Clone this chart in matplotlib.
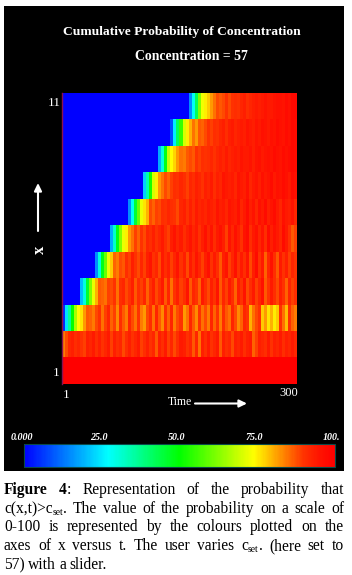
import numpy as np
import matplotlib
matplotlib.use("Agg")
import matplotlib.pyplot as plt
from matplotlib.colors import LinearSegmentedColormap, Normalize
from matplotlib.cm import ScalarMappable

plt.rcParams['font.family'] = ['Liberation Serif', 'DejaVu Serif']

W, H = 352, 575

TITLE = "Cumulative Probability of Concentration"
SUBTITLE = "Concentration = 57"
X_LABEL = "Time"
Y_LABEL = "X"
X_TICKS = ["1", "300"]
Y_TICKS = ["11", "1"]
BAR_TICKS = ["0.000", "25.0", "50.0", "75.0", "100."]

# Probability (0-100) per position x, top row first, along time
row_11 = [0]*42 + [15,28,42,62,73,75,78,82,85,88,87,88,90,88,90,91,90,92,93,91,92,93,94,93,94,95,94,94,95,96,96,95,97,96,98,98]
row_10 = [0]*36 + [8,25,42,55,70,75,80,85,82,87,86,88,90,89,91,90,92,93,91,93,94,92,93,94,93,95,94,93,95,94,96,95,94,96,95,97,96,95,97,96,98,97]
row_9 = [0]*32 + [18,30,48,68,74,77,82,85,84,87,88,87,90,89,91,90,91,92,90,92,93,92,94,92,93,94,93,95,94,94,95,93,95,96,94,95,96,95,97,96,95,97,96,97,98,97]
row_8 = [0]*27 + [22,34,52,70,75,82,85,88,86,89,91,90,92,91,89,92,91,93,92,90,93,92,94,91,93,92,95,94,93,94,92,95,94,93,96,92,94,95,93,96,94,95,97,94,96,95,97,96,94,97,96]
row_7 = [0]*22 + [15,28,45,60,72,76,80,88,86,89,88,91,90,92,91,90,88,92,93,90,93,91,94,92,93,92,94,93,92,95,93,94,92,95,94,93,96,92,94,97,93,95,92,96,94,97,93,95,97,94,92,96,94,93,95,92]
row_6 = [0]*16 + [18,32,48,62,72,75,82,85,89,86,90,88,92,91,93,90,92,94,91,89,93,95,92,94,91,93,95,92,94,90,93,96,92,95,91,94,96,93,89,95,92,96,93,90,95,97,91,94,96,92,95,91,97,93,96,94,92,97,94,90,87,89]
row_5 = [0]*11 + [15,30,48,60,72,78,86,84,88,87,91,89,93,90,88,92,89,93,95,90,92,88,94,91,93,89,92,95,90,93,88,94,91,95,92,89,93,96,90,94,91,87,93,95,89,92,96,90,94,91,95,88,93,97,90,94,86,92,96,91,87,94,90,93,89,92,90]
row_4 = [0]*6 + [20,30,46,62,72,80,87,86,85,89,88,90,85,91,92,88,90,93,87,91,89,92,86,90,93,88,91,94,87,92,85,90,93,89,91,95,87,92,90,86,94,91,88,93,90,95,87,92,89,94,91,86,93,90,95,88,91,94,89,92,96,87,90,94,91,88,93,90,86,92,89,91]
row_3 = [5,24,36,50,66,74,76,82,87,86,84,88,90,85,89,92,86,89,83,91,87,84,92,88,85,90,84,82,88,91,85,92,87,83,91,86,92,84,88,90,82,85,92,87,83,90,85,88,84,92,86,90,84,91,87,85,92,88,83,86,92,90,80,85,88,90,78,82,76,80,75,78,90,85,79,90,86,84]
row_2 = [84,88,92,93,91,92,90,89,93,92,94,91,93,90,92,94,89,93,91,92,88,91,93,90,92,94,89,91,93,90,92,87,93,91,94,89,92,88,91,94,93,90,92,87,92,85,93,91,94,90,92,94,87,93,91,92,88,93,92,94,91,93,94,86,89,93,92,91,94,90,93,92,94,91,93,92,94,92]
row_1 = [100]*78

rows = [row_11, row_10, row_9, row_8, row_7, row_6, row_5, row_4, row_3, row_2, row_1]

cmap = LinearSegmentedColormap.from_list(
    "probability",
    [(0.0, (0, 0, 1)), (0.27, (0, 1, 1)), (0.5, (0, 1, 0)), (0.74, (1, 1, 0)),
     (0.84, (1, 0.5, 0)), (0.90, (1, 0.2, 0)), (0.95, (1, 0.08, 0)), (1.0, (1, 0, 0))])
norm = Normalize(0, 100)

fig = plt.figure(figsize=(W/100, H/100), dpi=100, facecolor="white")


def box(x0, y0, x1, y1):
    return [x0/W, 1 - y1/H, (x1 - x0)/W, (y1 - y0)/H]


# page overlay in pixel coordinates
page = fig.add_axes([0, 0, 1, 1], zorder=0)
page.set_xlim(0, W)
page.set_ylim(H, 0)
page.axis("off")
page.fill_between([4, 344], 6, 471, color="black", lw=0)

over = fig.add_axes([0, 0, 1, 1], zorder=5)
over.set_xlim(0, W)
over.set_ylim(H, 0)
over.axis("off")

# heat map
ax = fig.add_axes(box(62, 93, 297, 384), zorder=2)
ax.imshow(np.array(rows, dtype=float), cmap=cmap, norm=norm, aspect="auto", interpolation="nearest")
ax.set_xticks([])
ax.set_yticks([])
for name, s in ax.spines.items():
    s.set_visible(name == "left")
ax.spines["left"].set_color("#8a1050")
ax.spines["left"].set_linewidth(1.0)

# colour bar
cax = fig.add_axes(box(24, 444, 335, 467), zorder=2)
cb = fig.colorbar(ScalarMappable(norm=norm, cmap=cmap), cax=cax, orientation="horizontal")
cb.set_ticks([])
cb.outline.set_edgecolor("#0a4a4a")
cb.outline.set_linewidth(0.8)

# titles
white = dict(color="white", ha="center", va="center")
over.text(182, 32, TITLE, fontsize=9.7, fontweight="bold", **white)
over.text(191, 56, SUBTITLE, fontsize=9.9, fontweight="bold", **white)

# tick labels
over.text(54, 103, Y_TICKS[0], fontsize=9.5, **white)
over.text(56.5, 373.5, Y_TICKS[1], fontsize=9.5, **white)
over.text(66, 395, X_TICKS[0], fontsize=9.5, **white)
over.text(288.5, 392.5, X_TICKS[1], fontsize=9, **white)

# axis names and arrows
over.text(39.5, 249.5, Y_LABEL.lower(), fontsize=12, fontweight="bold", rotation=90, **white)
over.text(179.5, 402, X_LABEL, fontsize=8.5, **white)
arrow = dict(arrowstyle="-|>,head_width=0.22,head_length=0.45", color="white", lw=1.5, shrinkA=0, shrinkB=0)
over.annotate("", xy=(38, 183), xytext=(38, 231), arrowprops=arrow)
over.annotate("", xy=(247, 403.5), xytext=(195, 403.5), arrowprops=arrow)

# colour bar labels
for label, xc in zip(BAR_TICKS, [22, 98.5, 177, 254, 331.5]):
    over.text(xc, 438, label, fontsize=7.2, fontweight="bold", style="italic", **white)

# justified caption
CAPTION_SIZE = 11.2
B, N, S = "bold", "normal", "sub"
caption = [
    (490, True, [[("Figure", B)], [("4", B), (":", N)], [("Representation", N)], [("of", N)], [("the", N)], [("probability", N)], [("that", N)]]),
    (509, True, [[("c(x,t)>c", N), ("set", S), (".", N)], [("The", N)], [("value", N)], [("of", N)], [("the", N)], [("probability", N)], [("on", N)], [("a", N)], [("scale", N)], [("of", N)]]),
    (527, True, [[("0-100", N)], [("is", N)], [("represented", N)], [("by", N)], [("the", N)], [("colours", N)], [("plotted", N)], [("on", N)], [("the", N)]]),
    (546, True, [[("axes", N)], [("of", N)], [("x", N)], [("versus", N)], [("t.", N)], [("The", N)], [("user", N)], [("varies", N)], [("c", N), ("set", S), (".", N)], [("(here", N)], [("set", N)], [("to", N)]]),
    (565, False, [[("57)", N)], [("with", N)], [("a", N)], [("slider.", N)]]),
]


def run_text(x, y, s, kind):
    size = CAPTION_SIZE * (0.62 if kind == S else 1)
    weight = "bold" if kind == B else "normal"
    dy = 2.0 if kind == S else 0
    return over.text(x, y + dy, s, fontsize=size, fontweight=weight, color="black", ha="left", va="baseline")


renderer = fig.canvas.get_renderer()
for base, justify, words in caption:
    base_y = base + 4
    widths = []
    for word in words:
        w = 0
        for s, kind in word:
            t = run_text(0, base_y, s, kind)
            w += t.get_window_extent(renderer).width
            t.remove()
        widths.append(w)
    gap = (340 - sum(widths)) / (len(words) - 1) if justify else 3.4
    x = 4
    for word, width in zip(words, widths):
        cx = x
        for s, kind in word:
            t = run_text(cx, base_y, s, kind)
            cx += t.get_window_extent(renderer).width
        x += width + gap

fig.savefig("out.png", dpi=100, facecolor="white")
